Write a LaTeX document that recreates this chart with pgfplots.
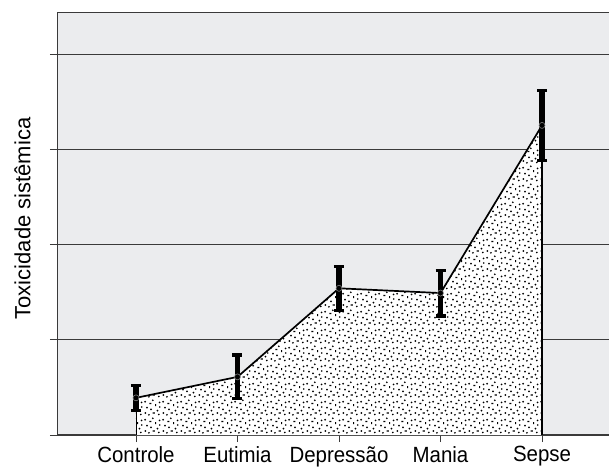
\documentclass[border=0pt]{standalone}
\usepackage{fontspec}
\setmainfont{Liberation Sans}
\usepackage{pgfplots}
\pgfplotsset{compat=1.18}
\usetikzlibrary{patterns.meta}

\definecolor{bgcol}{HTML}{EBECEE}
\definecolor{gridcol}{HTML}{3A3A3A}

% irregular stipple for the area under the curve
\tikzdeclarepattern{
  name=stipple, type=uncolored,
  bottom left={(0pt,0pt)}, top right={(18pt,18pt)},
  tile size={(18pt,18pt)},
  code={
    \fill (1.4pt,3.1pt) circle (1.05pt);
    \fill (5.2pt,1.2pt) circle (1pt);
    \fill (9.0pt,2.6pt) rectangle (11.4pt,3.8pt);
    \fill (14.2pt,5.6pt) circle (1.05pt);
    \fill (3.2pt,8.8pt) circle (1pt);
    \fill (7.4pt,7.0pt) circle (1.05pt);
    \fill (11.6pt,10.4pt) rectangle (12.8pt,12.6pt);
    \fill (16.4pt,14.3pt) circle (1pt);
    \fill (1.3pt,15.0pt) circle (1.05pt);
    \fill (5.6pt,12.6pt) rectangle (7.8pt,13.7pt);
    \fill (9.3pt,16.5pt) circle (1pt);
    \fill (15.6pt,1.6pt) circle (1pt);
    \fill (16.6pt,9.4pt) circle (0.9pt);
  }
}

\begin{document}
\begin{tikzpicture}
  \begin{axis}[
      name=ax,
      scale only axis,
      width=552pt, height=422pt,
      xmin=-0.778, xmax=4.66,
      ymin=0, ymax=4.43,
      axis x line*=bottom,
      axis y line*=left,
      axis line style={-, gridcol, line width=1pt},
      x axis line style={line width=1.6pt},
      axis background/.style={fill=bgcol},
      xtick={0,1,2,3,4},
      xticklabels={Controle, Eutimia, Depressão, Mania, Sepse},
      ytick={0,1,2,3,4},
      yticklabels={},
      tick align=outside,
      major tick length=7pt,
      tick style={gridcol, line width=0.9pt},
      ymajorgrids,
      grid style={gridcol, line width=0.9pt},
      ticklabel style={font=\fontsize{22}{24}\selectfont\addfontfeature{FakeStretch=0.93}},
      xticklabel style={yshift=-1pt},
      ylabel={Toxicidade sistêmica},
      ylabel style={font=\fontsize{22}{24}\selectfont,
        at={(axis description cs:-0.0625,0.513)}, anchor=center, rotate=0},
    ]
    % stippled area
    \addplot[draw=none, fill=white, postaction={pattern=stipple}]
      coordinates {(0,0.39) (1,0.61) (2,1.54) (3,1.49) (4,3.25)} \closedcycle;
    \addplot[black, line width=0.5pt] coordinates {(0,0) (0,0.39)};
    \addplot[black, line width=1.5pt] coordinates {(4,0) (4,3.25)};
    % mean line with error bars
    \addplot[black, line width=1.7pt,
      mark=o, mark options={gray, line width=0.6pt, mark size=3pt},
      error bars/.cd, y dir=both, y explicit,
      error bar style={line width=5.5pt},
      error mark options={line width=3.2pt, mark size=5pt, rotate=90}]
      coordinates {
        (0,0.39) +- (0,0.13)
        (1,0.61) +- (0,0.23)
        (2,1.54) +- (0,0.23)
        (3,1.49) +- (0,0.24)
        (4,3.25) +- (0,0.37)
      };
    \draw[gridcol, line width=1pt] (rel axis cs:0,1) -- (rel axis cs:1,1);
  \end{axis}
  \pgfresetboundingbox
  \path (ax.south west) ++(-57pt,-34pt) rectangle ([yshift=13pt]ax.north east);
\end{tikzpicture}
\end{document}
